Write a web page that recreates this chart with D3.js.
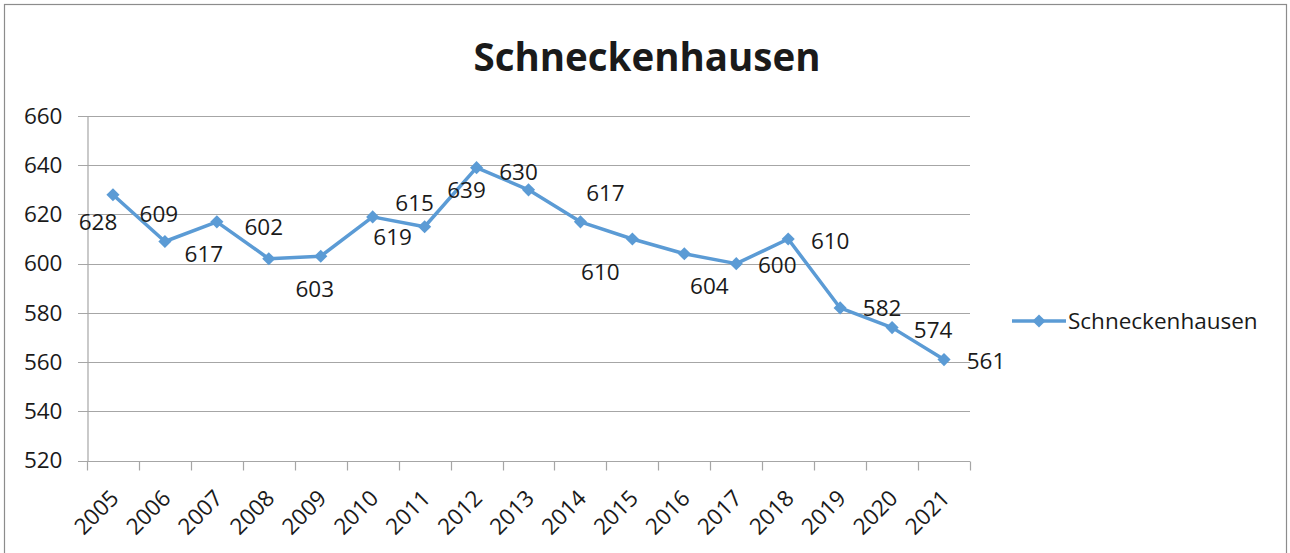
<!DOCTYPE html>
<html>
<head>
<meta charset="utf-8">
<script src="https://cdn.jsdelivr.net/npm/d3@7"></script>
<style>
  body { margin: 0; background: #fff; }
  text { font-family: "Open Sans", "Liberation Sans", sans-serif; fill: #1a1a1a; }
</style>
</head>
<body>
<div id="chart"></div>
<script>
/** Data */
var years = ["2005", "2006", "2007", "2008", "2009", "2010", "2011", "2012", "2013",
             "2014", "2015", "2016", "2017", "2018", "2019", "2020", "2021"];
var population = [628, 609, 617, 602, 603, 619, 615, 639, 630, 617, 610, 604, 600, 610, 582, 574, 561];
var yTicks = [520, 540, 560, 580, 600, 620, 640, 660];
var seriesName = "Schneckenhausen";

// where Excel put each data label, relative to its point
var labelOffsets = [[-15, 27], [-6, -28], [-13, 32], [-5, -32], [-6, 33], [20, 20], [-10, -24],
                    [-10, 22], [-10, -18], [25, -29], [-32, 33], [25, 32], [41, 1], [42, 2],
                    [42, 0], [41, 2], [42, 1]];

var W = 1290, H = 553;
var margin = {top: 116, left: 87, right: 320, bottom: 92};
var color = "#5b9bd5";
var fontSize = "22.5px";

var svg = d3.select("#chart").append("svg")
  .attr("width", W)
  .attr("height", H);

// chart frame
svg.append("rect")
  .attr("x", 4.5).attr("y", 4.5)
  .attr("width", 1282).attr("height", 560)
  .attr("fill", "none")
  .attr("stroke", "#8c8c8c")
  .attr("stroke-width", 1.2);

svg.append("text")
  .attr("x", 647)
  .attr("y", 71)
  .attr("text-anchor", "middle")
  .style("font-size", "38.5px")
  .style("font-weight", "bold")
  .text(seriesName);

var x = d3.scaleBand()
  .domain(years)
  .range([margin.left, 970]);

var y = d3.scaleLinear()
  .domain([520, 660])
  .range([460.5, margin.top]);

// gridlines
svg.append("g")
  .selectAll("line")
  .data(yTicks)
  .enter()
  .append("line")
    .attr("x1", 78)
    .attr("x2", 970)
    .attr("y1", function(d) { return Math.round(y(d)) + 0.5; })
    .attr("y2", function(d) { return Math.round(y(d)) + 0.5; })
    .attr("stroke", "#a6a6a6")
    .attr("stroke-width", 1.2);

// y axis
var yg = svg.append("g")
  .attr("transform", "translate(" + (margin.left + 0.5) + ",0)")
  .call(d3.axisLeft(y).tickValues(yTicks).tickSize(0).tickPadding(25));
yg.select(".domain").attr("stroke", "#a6a6a6").attr("stroke-width", 1.2);
yg.selectAll("text")
  .style("font-size", fontSize)
  .style("font-family", "'Open Sans', sans-serif")
  .attr("fill", "#1a1a1a");

// x axis, ticks sit on band edges
var xg = svg.append("g")
  .attr("transform", "translate(0," + (Math.round(y(520)) + 0.5) + ")");
xg.append("line")
  .attr("x1", margin.left).attr("x2", 970)
  .attr("stroke", "#a6a6a6").attr("stroke-width", 1.2);
var edges = years.map(function(d) { return x(d); }).concat([970]);
xg.selectAll(".tick")
  .data(edges)
  .enter()
  .append("line")
    .attr("x1", function(d) { return Math.round(d) + 0.5; })
    .attr("x2", function(d) { return Math.round(d) + 0.5; })
    .attr("y1", 0).attr("y2", 9)
    .attr("stroke", "#a6a6a6").attr("stroke-width", 1.2);
xg.selectAll(".year")
  .data(years)
  .enter()
  .append("text")
    .attr("text-anchor", "end")
    .attr("transform", function(d) {
      return "translate(" + (x(d) + x.bandwidth() / 2 - 4) + ",27) rotate(-45)";
    })
    .attr("dy", "0.7em")
    .style("font-size", fontSize)
    .text(function(d) { return d; });

// series line
var line = d3.line()
  .x(function(d, i) { return x(years[i]) + x.bandwidth() / 2; })
  .y(function(d) { return y(d); });

svg.append("path")
  .datum(population)
  .attr("fill", "none")
  .attr("stroke", color)
  .attr("stroke-width", 3.5)
  .attr("stroke-linejoin", "round")
  .attr("d", line);

var diamond = d3.symbol().type(d3.symbolDiamond2).size(110);

svg.append("g")
  .selectAll("path")
  .data(population)
  .enter()
  .append("path")
    .attr("d", diamond)
    .attr("fill", color)
    .attr("transform", function(d, i) {
      return "translate(" + (x(years[i]) + x.bandwidth() / 2) + "," + y(d) + ")";
    });

// data labels
svg.append("g")
  .selectAll("text")
  .data(population)
  .enter()
  .append("text")
    .attr("text-anchor", "middle")
    .attr("dy", "0.36em")
    .attr("x", function(d, i) { return x(years[i]) + x.bandwidth() / 2 + labelOffsets[i][0]; })
    .attr("y", function(d, i) { return y(d) + labelOffsets[i][1]; })
    .style("font-size", fontSize)
    .text(function(d) { return d; });

// legend
var legend = svg.append("g").attr("transform", "translate(1012,321)");
legend.append("line")
  .attr("x1", 0).attr("x2", 54)
  .attr("stroke", color).attr("stroke-width", 3.5);
legend.append("path")
  .attr("d", diamond)
  .attr("fill", color)
  .attr("transform", "translate(27,0)");
legend.append("text")
  .attr("x", 56)
  .attr("dy", "0.36em")
  .style("font-size", fontSize)
  .text(seriesName);
</script>
</body>
</html>
